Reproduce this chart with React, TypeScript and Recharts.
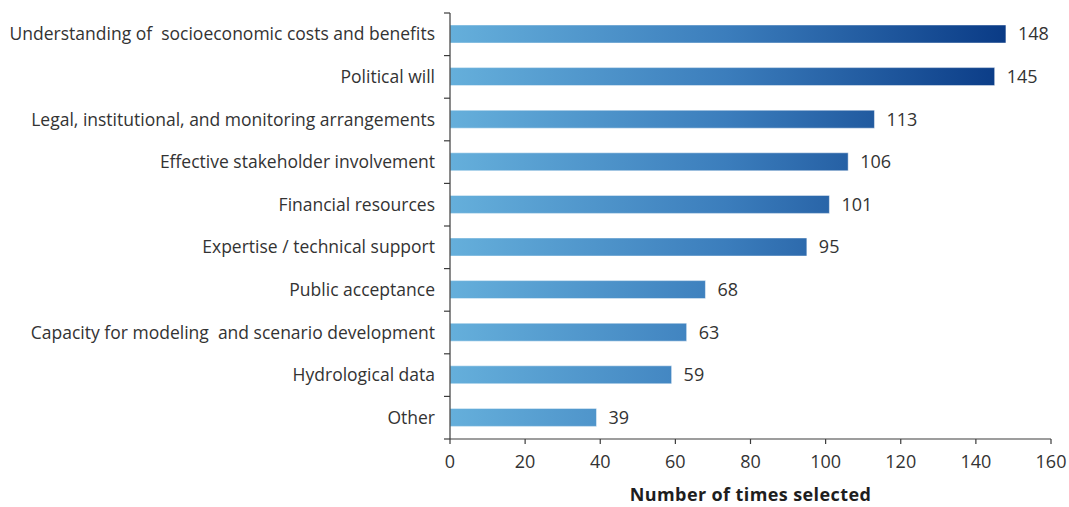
import { BarChart, Bar, XAxis, YAxis, LabelList, Label } from 'recharts'

const categories = [
    'Understanding of  socioeconomic costs and benefits',
    'Political will',
    'Legal, institutional, and monitoring arrangements',
    'Effective stakeholder involvement',
    'Financial resources',
    'Expertise / technical support',
    'Public acceptance',
    'Capacity for modeling  and scenario development',
    'Hydrological data',
    'Other',
]
const timesSelected = [148, 145, 113, 106, 101, 95, 68, 63, 59, 39]
const xTicks = [0, 20, 40, 60, 80, 100, 120, 140, 160]

const data = categories.map((name, i) => ({ name, value: timesSelected[i] }))

const FONT = '"Open Sans", "Noto Sans", sans-serif'
const TEXT = '#333333'
const AXIS = '#3c3c3c'

// category label at the band centre, tick mark at the band boundary
function CategoryTick(props: any) {
    const { x, y, payload, index } = props
    const half = payload?.offset ?? 21
    const axisX = x + 15
    return (
        <g>
            <text
                x={x}
                y={y}
                dy="0.35em"
                textAnchor="end"
                fill={TEXT}
                fontSize={17.5}
                fontFamily={FONT}
                style={{ whiteSpace: 'pre' }}
            >
                {payload.value}
            </text>
            <line x1={axisX - 6} x2={axisX} y1={y - half} y2={y - half} stroke={AXIS} strokeWidth={1.2} />
            {index === categories.length - 1 && (
                <line x1={axisX - 6} x2={axisX} y1={y + half} y2={y + half} stroke={AXIS} strokeWidth={1.2} />
            )}
        </g>
    )
}

export default function App() {
    return (
        <div style={{ position: 'absolute', left: 0, top: 0, background: '#fff' }}>
            <BarChart
                width={1069}
                height={507}
                data={data}
                layout="vertical"
                margin={{ top: 13, right: 18, left: 0, bottom: 0 }}
                barCategoryGap={0}
            >
                <defs>
                    <linearGradient id="barGrad" gradientUnits="userSpaceOnUse" x1={450} y1={0} x2={1005} y2={0}>
                        <stop offset="0%" stopColor="#65afdb" />
                        <stop offset="50%" stopColor="#3b7dbc" />
                        <stop offset="100%" stopColor="#0a3b86" />
                    </linearGradient>
                </defs>
                <XAxis
                    type="number"
                    domain={[0, 160]}
                    ticks={xTicks}
                    height={68}
                    tickSize={5}
                    tickMargin={11}
                    stroke={AXIS}
                    axisLine={{ stroke: AXIS, strokeWidth: 1.2 }}
                    tickLine={{ stroke: AXIS, strokeWidth: 1.2 }}
                    tick={{ fill: TEXT, fontSize: 18, fontFamily: FONT }}
                >
                    <Label
                        value="Number of times selected"
                        position="insideBottom"
                        offset={6}
                        style={{ fill: '#1e1e1e', fontSize: 18, fontWeight: 700, fontFamily: FONT, letterSpacing: '0.4px' }}
                    />
                </XAxis>
                <YAxis
                    type="category"
                    dataKey="name"
                    width={450}
                    tickSize={0}
                    tickMargin={15}
                    tickLine={false}
                    axisLine={{ stroke: AXIS, strokeWidth: 1.2 }}
                    tick={<CategoryTick />}
                    interval={0}
                />
                <Bar
                    dataKey="value"
                    barSize={18}
                    fill="url(#barGrad)"
                    stroke="rgba(255,255,255,0.45)"
                    strokeWidth={1}
                    isAnimationActive={false}
                >
                    <LabelList
                        dataKey="value"
                        position="right"
                        offset={12}
                        style={{ fill: TEXT, fontSize: 18, fontFamily: FONT }}
                    />
                </Bar>
            </BarChart>
        </div>
    )
}
